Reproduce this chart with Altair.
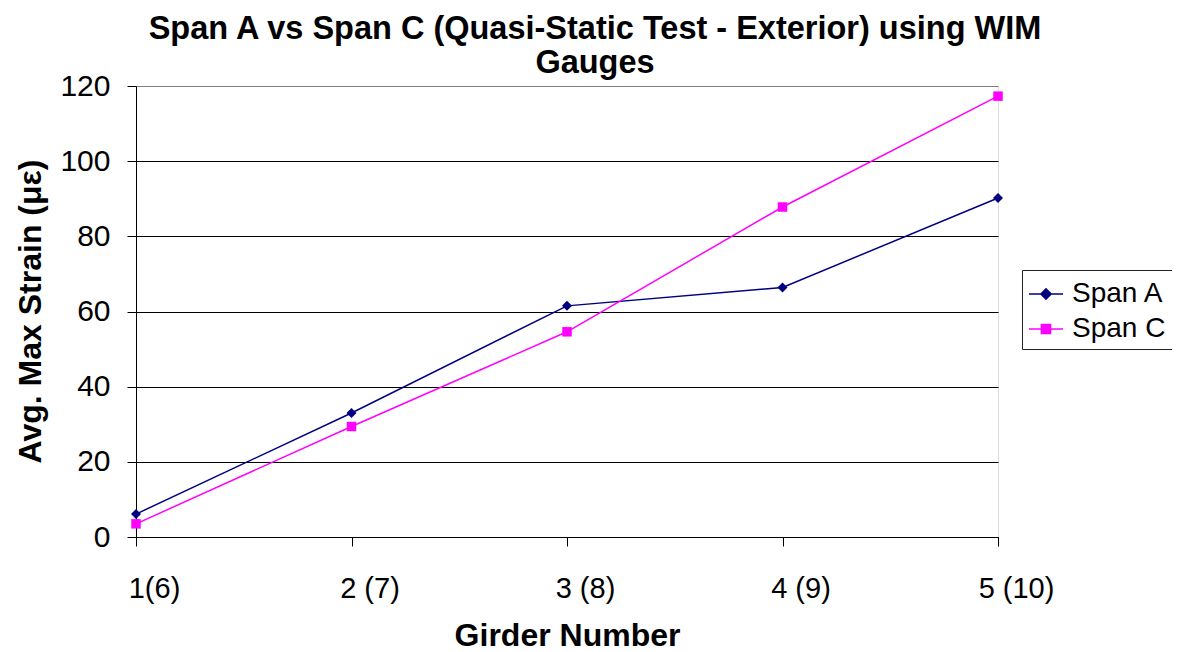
import altair as alt
import pandas as pd

# ---- data ----
girders = ["1(6)", "2 (7)", "3 (8)", "4 (9)", "5 (10)"]
span_a = [6.1, 33.0, 61.5, 66.4, 90.2]
span_c = [3.5, 29.4, 54.6, 87.8, 117.3]
series_names = ["Span A", "Span C"]
series_colors = ["#000080", "#FF00FF"]
series_shapes = ["diamond", "square"]
y_ticks = [0, 20, 40, 60, 80, 100, 120]

rows = []
for name, vals in zip(series_names, [span_a, span_c]):
    for g, v in zip(girders, vals):
        rows.append({"girder": g, "strain": v, "series": name})
df = pd.DataFrame(rows)

FONT = "Liberation Sans"

# legend symbols: a short line with the marker in its middle
legend_paths = [
    "M-1,0L1,0M0,-0.3L0.3,0L0,0.3L-0.3,0Z",
    "M-1,0L1,0M-0.27,-0.27L0.27,-0.27L0.27,0.27L-0.27,0.27Z",
]

x = alt.X(
    "girder:N",
    sort=girders,
    scale=alt.Scale(type="point", padding=0),
    axis=alt.Axis(
        title="Girder Number",
        labelAngle=0,
        labelFont=FONT,
        labelFontSize=29,
        labelColor="black",
        labelBaseline="alphabetic",
        labelPadding=51,
        labelOffset=18,
        tickSize=9,
        tickColor="black",
        domainColor="black",
        grid=False,
        titleFont=FONT,
        titleFontSize=32,
        titleFontWeight="bold",
        titleColor="black",
        titleBaseline="alphabetic",
        titleY=108,
    ),
)

y = alt.Y(
    "strain:Q",
    scale=alt.Scale(domain=[0, 120], nice=False),
    axis=alt.Axis(
        values=y_ticks,
        title="Avg. Max Strain (με)",
        labelFont=FONT,
        labelFontSize=30,
        labelColor="black",
        labelPadding=17,
        tickSize=9,
        tickColor="black",
        domainColor="black",
        grid=True,
        gridColor={"condition": {"test": "datum.value === 120", "value": "#808080"}, "value": "black"},
        gridWidth=1,
        titleFont=FONT,
        titleFontSize=32,
        titleFontWeight="bold",
        titleColor="black",
        titleAngle=270,
        titleAlign="center",
        titleBaseline="alphabetic",
        titleX=-96,
        titleY=225,
    ),
)

color_scale = alt.Scale(domain=series_names, range=series_colors)

leg = alt.Legend(
    title=None,
    orient="none",
    legendX=886,
    legendY=184,
    labelFont=FONT,
    labelFontSize=28,
    labelColor="black",
    labelOffset=8,
    symbolSize=1156,
    symbolStrokeWidth=1.5,
    symbolOpacity=1,
    rowPadding=3,
    padding=6,
    strokeColor="#222222",
    fillColor="white",
)

base = alt.Chart(df).encode(x=x, y=y)

lines = base.mark_line(strokeWidth=1.5).encode(
    stroke=alt.Stroke("series:N", scale=color_scale, legend=leg)
)
points_a = (
    base.transform_filter(alt.datum.series == series_names[0])
    .mark_point(shape=series_shapes[0], filled=True, size=100, opacity=1)
    .encode(fill=alt.Fill("series:N", scale=color_scale, legend=leg))
)
points_c = (
    base.transform_filter(alt.datum.series == series_names[1])
    .mark_point(shape=series_shapes[1], filled=True, size=90, opacity=1)
    .encode(fill=alt.Fill("series:N", scale=color_scale, legend=leg))
)
legend_layer = base.mark_point(filled=True, opacity=0).encode(
    shape=alt.Shape("series:N", scale=alt.Scale(domain=series_names, range=legend_paths), legend=leg),
    fill=alt.Fill("series:N", scale=color_scale, legend=leg),
    stroke=alt.Stroke("series:N", scale=color_scale, legend=leg),
)

chart = (
    alt.layer(lines, points_a, points_c, legend_layer)
    .properties(
        width=862,
        height=451,
        title=alt.Title(
            text=["Span A vs Span C (Quasi-Static Test - Exterior) using WIM", "Gauges"],
            font=FONT,
            fontSize=32.5,
            fontWeight="bold",
            color="black",
            anchor="middle",
            dx=28,
            dy=18,
            offset=10,
            lineHeight=34,
        ),
        autosize=alt.AutoSizeParams(type="none"),
        padding={"left": 128, "top": 78, "right": 174, "bottom": 115},
    )
    .configure_view(stroke="#808080", strokeWidth=1)
    .configure(background="white")
)

chart.save("out.html", embed_options={"renderer": "svg", "actions": False})
